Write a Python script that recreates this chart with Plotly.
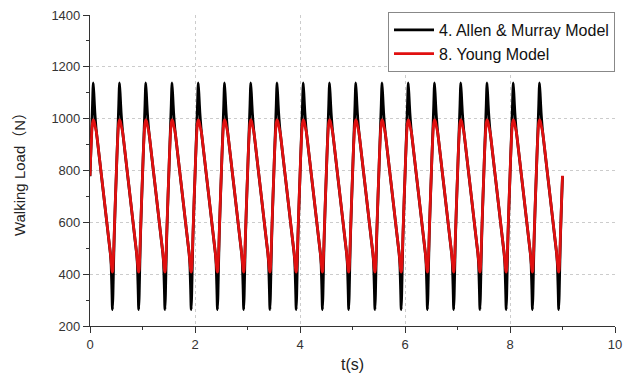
import plotly.graph_objects as go

# ---- data ----
# one gait cycle (period 0.5 s), phase measured from the black peak (seconds)
cycle_phase = [0.000, 0.015, 0.030, 0.050, 0.062, 0.075, 0.100, 0.125, 0.150, 0.200,
               0.250, 0.300, 0.325, 0.340, 0.355, 0.365, 0.375, 0.385, 0.400, 0.425,
               0.438, 0.450, 0.470, 0.485]
allen_murray_cycle = [1138, 1085, 1025, 970, 945, 922, 878, 834, 790, 702,
                      613, 525, 481, 440, 340, 263, 320, 420, 550, 705,
                      778, 848, 960, 1050]
young_cycle = [995, 990, 975, 957, 945, 925, 880, 836, 792, 704,
               615, 527, 483, 450, 418, 408, 420, 465, 560, 710,
               780, 850, 940, 982]
first_peak_time = 0.062   # s
step_period = 0.5         # s
n_cycles = 19             # cycles spanned (from -1 to 17)
t_start, t_end = 0.0, 9.0

x_ticks = [0, 2, 4, 6, 8, 10]
y_ticks = [200, 400, 600, 800, 1000, 1200, 1400]

series_names = ["4. Allen & Murray Model", "8. Young Model"]
series_colors = ["#000000", "#e01010"]

# ---- build the sampled time histories from the read cycle ----
def build(cycle):
    ts, ys = [], []
    for k in range(-1, n_cycles - 1):
        for ph, v in zip(cycle_phase, cycle):
            t = first_peak_time + k * step_period + ph
            if t_start - 1e-9 <= t <= t_end + 1e-9:
                ts.append(round(t, 4))
                ys.append(v)
    return ts, ys

t_am, y_am = build(allen_murray_cycle)
t_yg, y_yg = build(young_cycle)

fig = go.Figure()
fig.add_trace(go.Scatter(x=t_am, y=y_am, mode="lines", name=series_names[0],
                         line=dict(color=series_colors[0], width=2.8, shape="spline", smoothing=0.6)))
fig.add_trace(go.Scatter(x=t_yg, y=y_yg, mode="lines", name=series_names[1],
                         line=dict(color=series_colors[1], width=2.8, shape="spline", smoothing=0.8)))

axis_common = dict(
    showline=True, linecolor="#333333", linewidth=1.2,
    ticks="outside", ticklen=6, tickcolor="#333333", tickwidth=1.2,
    showgrid=True, gridcolor="#cccccc", griddash="dot", gridwidth=1,
    zeroline=False, mirror=False,
    tickfont=dict(family="Liberation Sans, Arial", size=13, color="#333333"),
    minor=dict(ticks="outside", ticklen=3, tickcolor="#333333", tickwidth=1.2, showgrid=False),
)

fig.update_layout(
    width=630, height=379,
    margin=dict(l=90, r=8, t=15, b=51),
    paper_bgcolor="white", plot_bgcolor="white",
    showlegend=True,
    legend=dict(x=1, xanchor="right", y=1.01, yanchor="top",
                bgcolor="white", bordercolor="#888888", borderwidth=1,
                font=dict(family="Liberation Sans, Arial", size=16, color="#111111"),
                tracegroupgap=0, itemwidth=40),
    xaxis=dict(range=[0, 10], tickvals=x_ticks, minor_dtick=1,
               title=dict(text="t(s)", font=dict(family="Liberation Sans, Arial", size=16, color="#222222"),
                          standoff=8),
               **axis_common),
    yaxis=dict(range=[200, 1400], tickvals=y_ticks, minor_dtick=100,
               title=dict(text="Walking Load（N）", font=dict(family="Liberation Sans, Arial, Noto Sans CJK SC", size=15, color="#222222"),
                          standoff=22),
               **axis_common),
)

fig.write_html("out.html")
